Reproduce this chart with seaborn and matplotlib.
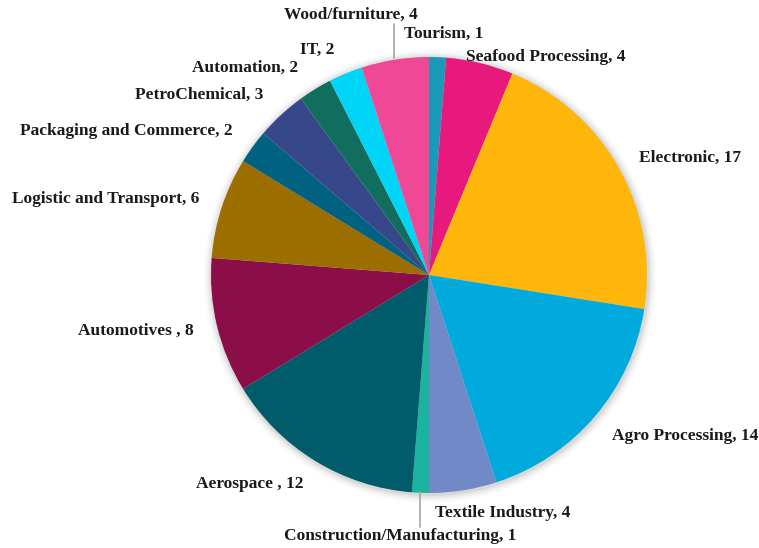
import matplotlib
matplotlib.use("Agg")
import matplotlib.pyplot as plt
from matplotlib.patches import Circle
import seaborn as sns

sns.set_theme(style="white")
plt.rcParams['font.family'] = ['Liberation Serif', 'DejaVu Serif']

# Sectors, clockwise from 12 o'clock
sectors = ["Tourism", "Seafood Processing", "Electronic", "Agro Processing",
           "Textile Industry", "Construction/Manufacturing", "Aerospace ",
           "Automotives ", "Logistic and Transport", "Packaging and Commerce",
           "PetroChemical", "Automation", "IT", "Wood/furniture"]
counts = [1, 4, 17, 14, 4, 1, 12, 8, 6, 2, 3, 2, 2, 4]
colors = ["#1A9AB8", "#E8197C", "#FFB60B", "#00AADC", "#7289C8", "#1AB3A0",
          "#005B6A", "#8C0E48", "#9C6E00", "#006280", "#36488A", "#116E5E",
          "#00D5F8", "#EE4897"]

# Label anchor points in pixels (left x, centre y)
label_px = [(404, 34), (466, 57), (639, 158), (612, 436), (435, 513),
            (284, 536), (196, 484), (78, 331), (12, 199), (20, 131),
            (135, 95), (192, 68), (300, 50), (284, 15)]

W, H = 759, 548
CX, CY, R = 429, 275, 218


def px(x, y):
    return (x - CX) / R, (CY - y) / R


fig = plt.figure(figsize=(W / 100, H / 100), dpi=100)
ax = fig.add_axes([0, 0, 1, 1])

# soft shadow under the pie
for i, a in enumerate([0.05, 0.04, 0.03, 0.02, 0.012]):
    ax.add_patch(Circle((0.004, -0.006), 1.0 + 0.008 * (i + 1), color="black",
                        alpha=a, lw=0, zorder=0))

ax.pie(counts, colors=colors, startangle=90, counterclock=False,
       wedgeprops=dict(linewidth=0), radius=1.0)

for name, n, (x, y) in zip(sectors, counts, label_px):
    tx, ty = px(x, y)
    ax.text(tx, ty, f"{name}, {n}", ha="left", va="center", fontsize=12.5,
            fontweight="bold", color="#1a1a1a", zorder=5)

# leader lines for the thin slices
for (x0, y0), (x1, y1) in [((394, 24), (394, 58)), ((420, 492), (420, 527))]:
    ax.plot(*zip(px(x0, y0), px(x1, y1)), color="#A6A6A6", lw=1.2, zorder=4)

ax.set_xlim(px(0, 0)[0], px(W, 0)[0])
ax.set_ylim(px(0, H)[1], px(0, 0)[1])
ax.set_aspect("auto")
ax.axis("off")

fig.savefig("out.png", dpi=100, facecolor="white")
